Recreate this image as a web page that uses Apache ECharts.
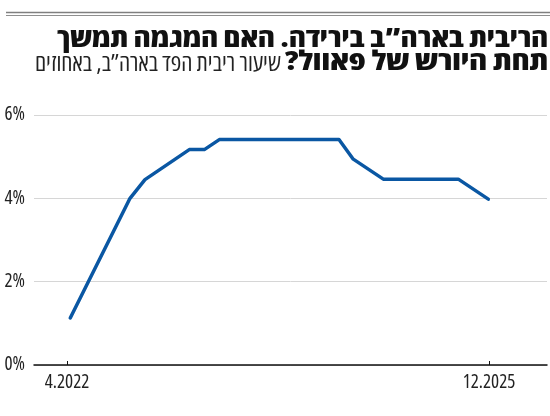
<!DOCTYPE html>
<html>
<head>
<meta charset="utf-8">
<script src="https://cdn.jsdelivr.net/npm/echarts@6/dist/echarts.min.js"></script>
<style>
html,body{margin:0;padding:0;background:#fff;}
#c{width:550px;height:416px;}
</style>
</head>
<body>
<div id="c"></div>
<script>
// Data (x = months since April 2022)
const months = [0.34, 6.57, 8.13, 12.75, 14.32, 15.88, 28.36, 29.85, 32.98, 40.8, 43.93];
const rates  = [1.13, 4.0, 4.45, 5.17, 5.17, 5.41, 5.41, 4.94, 4.46, 4.46, 3.98];
const tickMonths = [0, 44];
const tickLabels = ['4.2022', '12.2025'];

const titleLine1 = 'הריבית בארה”ב בירידה. האם המגמה תמשך';
const titleLine2Bold = 'תחת היורש של פאוול?\u200F';
const titleLine2Reg = 'שיעור ריבית הפד בארה”ב, באחוזים';

const boldFont = 'condensed 800 27px "Open Sans", "Liberation Sans", sans-serif';
const regFont = 'condensed 400 24px "Open Sans", "Liberation Sans", sans-serif';

const mctx = document.createElement('canvas').getContext('2d');
function fitScale(text, font, target) {
  mctx.font = font;
  return target / mctx.measureText(text).width;
}

const labelStyle = {fontFamily: '"Open Sans", sans-serif', fontStyle: 'condensed', fontSize: 19, color: '#222'};

const chart = echarts.init(document.getElementById('c'), null, {renderer: 'canvas'});
const data = months.map((m, i) => [m, rates[i]]);

chart.setOption({
  animation: false,
  backgroundColor: '#fff',
  grid: {left: 34, right: 3, top: 115, bottom: 51, containLabel: false},
  xAxis: {
    type: 'value',
    min: -3.44,
    max: 50.05,
    axisLine: {show: true, lineStyle: {color: '#111', width: 1.5}},
    axisTick: {show: true, inside: true, length: 4, customValues: tickMonths, lineStyle: {color: '#111', width: 1}},
    axisLabel: Object.assign({
      show: true,
      customValues: tickMonths,
      formatter: v => tickLabels[tickMonths.indexOf(v)] || '',
      margin: 8
    }, labelStyle),
    splitLine: {show: false}
  },
  yAxis: {
    type: 'value',
    min: 0, max: 6, interval: 2,
    axisLine: {show: false},
    axisTick: {show: false},
    axisLabel: Object.assign({formatter: '{value}%', margin: 9}, labelStyle),
    splitLine: {show: true, lineStyle: {color: '#d6d6d6', width: 1}}
  },
  series: [{
    type: 'line',
    data: data,
    showSymbol: false,
    lineStyle: {color: '#0a57a3', width: 3.5, join: 'round', cap: 'round'},
    z: 5
  }],
  graphic: [
    {type: 'line', shape: {x1: 6, y1: 12.5, x2: 550, y2: 12.5}, style: {stroke: '#7f7f7f', lineWidth: 1.5}},
    {type: 'line', shape: {x1: 6, y1: 15.5, x2: 550, y2: 15.5}, style: {stroke: '#8f8f8f', lineWidth: 1}},
    {type: 'text', x: 548, y: 53, scaleX: fitScale(titleLine1, boldFont, 491),
      style: {text: titleLine1, font: boldFont, fill: '#111', textAlign: 'right', textVerticalAlign: 'bottom'}},
    {type: 'text', x: 548, y: 76, scaleX: fitScale(titleLine2Bold, boldFont, 263),
      style: {text: titleLine2Bold, font: boldFont, fill: '#111', textAlign: 'right', textVerticalAlign: 'bottom'}},
    {type: 'text', x: 281, y: 76, scaleX: fitScale(titleLine2Reg, regFont, 246),
      style: {text: titleLine2Reg, font: regFont, fill: '#222', textAlign: 'right', textVerticalAlign: 'bottom'}}
  ]
});
</script>
</body>
</html>
